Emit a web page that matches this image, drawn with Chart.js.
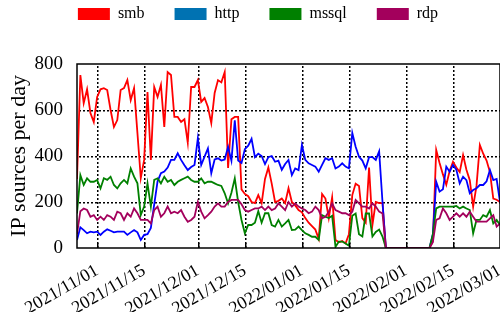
<!DOCTYPE html>
<html lang="en">
<head>
<meta charset="utf-8">
<title>IP sources per day</title>
<script src="https://cdn.jsdelivr.net/npm/chart.js@4.4.1/dist/chart.umd.min.js"></script>
<style>
  html, body { margin: 0; padding: 0; background: #fff; }
  #holder { width: 500px; height: 312px; }
</style>
</head>
<body>
<div id="holder"><canvas id="chart"></canvas></div>
<script>
// days are counted from 2021/11/01; the series start on 2021/10/26
const firstDay = -6;
const lastDay = 120;
const tickDays = [0, 14, 30, 44, 61, 75, 92, 106, 120];
const tickLabels = ['2021/11/01', '2021/11/15', '2021/12/01', '2021/12/15', '2022/01/01',
                    '2022/01/15', '2022/02/01', '2022/02/15', '2022/03/01'];
const yTicks = [0, 200, 400, 600, 800];

const smb = [
  300, 752, 630, 690, 587, 548,
  657, 690, 695, 687, 600, 526, 556, 687, 695, 730,
  643, 695, 500, 304, 383, 678, 383, 700, 657, 709,
  526, 765, 752, 570, 570, 548, 560, 457, 700, 700,
  730, 635, 652, 613, 543, 674, 730, 720, 765, 348,
  560, 570, 570, 255, 235, 225, 200, 195, 230, 195,
  300, 350, 280, 200, 205, 215, 195, 260, 200, 185,
  165, 155, 130, 110, 95, 80, 40, 235, 215, 130,
  220, 35, 25, 30, 20, 60, 230, 280, 270, 130,
  110, 350, 100, 200, 195, 195, 0, 0, 0, 0,
  0, 0, 0, 0, 0, 0, 0, 0, 0, 0,
  30, 426, 370, 320, 275, 335, 375, 350, 330, 404,
  340, 295, 180, 270, 448, 410, 380, 330, 215, 210,
  200
];
const http = [
  35, 90, 78, 64, 71, 68,
  71, 57, 71, 81, 75, 68, 71, 71, 71, 57,
  68, 78, 68, 35, 57, 60, 87, 190, 290, 325,
  332, 350, 383, 383, 412, 383, 360, 339, 352, 361,
  477, 361, 397, 433, 325, 385, 390, 380, 385, 440,
  380, 555, 380, 370, 430, 445, 475, 395, 410, 400,
  365, 395, 400, 375, 380, 340, 365, 383, 317, 346,
  339, 448, 383, 368, 361, 354, 332, 361, 390, 383,
  390, 346, 354, 368, 354, 346, 500, 440, 397, 380,
  346, 395, 395, 383, 420, 200, 0, 0, 0, 0,
  0, 0, 0, 0, 0, 0, 0, 0, 0, 0,
  60, 288, 245, 255, 354, 332, 361, 340, 281, 310,
  295, 238, 252, 260, 274, 274, 290, 339, 295, 300,
  200
];
const mssql = [
  150, 317, 274, 303, 288, 288,
  296, 259, 303, 296, 310, 274, 259, 281, 296, 281,
  346, 310, 281, 143, 180, 281, 180, 296, 303, 281,
  310, 288, 296, 274, 288, 296, 303, 310, 296, 288,
  288, 303, 281, 288, 288, 281, 274, 270, 238, 194,
  240, 303, 200, 122, 64, 100, 100, 110, 160, 110,
  151, 151, 100, 93, 122, 93, 107, 122, 78, 80,
  93, 78, 64, 57, 49, 49, 35, 143, 136, 130,
  140, 5, 28, 28, 20, 10, 140, 150, 60, 50,
  150, 150, 50, 70, 80, 50, 0, 0, 0, 0,
  0, 0, 0, 0, 0, 0, 0, 0, 0, 0,
  60, 172, 180, 180, 180, 180, 180, 183, 172, 180,
  172, 165, 64, 122, 122, 143, 136, 165, 107, 122,
  100
];
const rdp = [
  60, 160, 172, 165, 136, 143,
  122, 136, 122, 143, 136, 122, 158, 151, 122, 151,
  136, 172, 151, 122, 122, 122, 107, 165, 180, 136,
  151, 180, 151, 158, 151, 165, 136, 114, 122, 136,
  201, 158, 129, 143, 158, 180, 194, 180, 180, 200,
  209, 209, 209, 190, 165, 158, 165, 172, 172, 180,
  165, 180, 165, 172, 194, 180, 165, 200, 180, 194,
  180, 172, 165, 151, 158, 180, 165, 129, 136, 158,
  194, 165, 158, 151, 151, 143, 158, 209, 194, 180,
  180, 172, 194, 180, 158, 150, 0, 0, 0, 0,
  0, 0, 0, 0, 0, 0, 0, 0, 0, 0,
  25, 122, 129, 172, 151, 122, 136, 151, 136, 151,
  136, 158, 136, 115, 115, 115, 115, 129, 143, 93,
  107
];

const toPoints = vals => vals.map((v, i) => ({ x: firstDay + i, y: v }));

function series(label, vals, line, box, order) {
  return {
    label: label,
    data: toPoints(vals),
    borderColor: line,
    backgroundColor: box,
    borderWidth: 1.8,
    pointRadius: 0,
    tension: 0,
    order: order
  };
}

// dotted grid under the lines, then frame and inward tick marks on top
const frame = {
  id: 'frame',
  beforeDatasetsDraw(chart) {
    const ctx = chart.ctx;
    const a = chart.chartArea;
    const sx = chart.scales.x, sy = chart.scales.y;
    ctx.save();
    ctx.fillStyle = '#000';
    for (const d of tickDays) {
      const px = Math.round(sx.getPixelForValue(d));
      for (let t = Math.round(a.top) + 2; t < a.bottom; t += 4) ctx.fillRect(px, t, 1.5, 2);
    }
    for (const v of yTicks) {
      if (v === 0 || v === 800) continue;
      const py = Math.round(sy.getPixelForValue(v));
      for (let t = Math.round(a.left) + 2; t < a.right; t += 4) ctx.fillRect(t, py, 2, 1.5);
    }
    ctx.restore();
  },
  afterDatasetsDraw(chart) {
    const ctx = chart.ctx;
    const a = chart.chartArea;
    const sx = chart.scales.x;
    ctx.save();
    ctx.strokeStyle = '#000';
    ctx.lineWidth = 1.5;
    ctx.strokeRect(a.left, a.top, a.right - a.left, a.bottom - a.top);
    ctx.fillStyle = '#000';
    for (const d of tickDays) {
      const px = Math.round(sx.getPixelForValue(d));
      ctx.fillRect(px, a.bottom - 5, 1.5, 5);
    }
    ctx.restore();
  }
};

const legendShift = {
  id: 'legendShift',
  afterLayout(chart) {
    const lg = chart.legend;
    lg.left += 8;
    lg.right += 8;
    lg.top -= 32;
    lg.bottom -= 32;
  }
};

Chart.defaults.font.family = "'Liberation Serif', serif";
Chart.defaults.color = '#000';

new Chart(document.getElementById('chart'), {
  type: 'line',
  data: {
    datasets: [
      series('smb', smb, '#ff0000', '#ff0000', 3),
      series('http', http, '#0000ff', '#0072b2', 2),
      series('mssql', mssql, '#008000', '#008000', 1),
      series('rdp', rdp, '#a3005c', '#a3005c', 0)
    ]
  },
  options: {
    responsive: true,
    maintainAspectRatio: false,
    animation: false,
    layout: { padding: { top: 8, right: 0, bottom: 0, left: 0 } },
    plugins: {
      legend: {
        labels: {
          boxWidth: 32,
          boxHeight: 12,
          padding: 30,
          font: { size: 16 },
          sort: (a, b) => a.datasetIndex - b.datasetIndex,
          generateLabels(chart) {
            const items = Chart.defaults.plugins.legend.labels.generateLabels(chart);
            items.forEach(it => { it.strokeStyle = it.fillStyle; it.lineWidth = 0; });
            return items;
          }
        }
      },
      tooltip: { enabled: false }
    },
    scales: {
      x: {
        type: 'linear',
        min: firstDay,
        max: lastDay,
        afterBuildTicks: s => { s.ticks = tickDays.map(v => ({ value: v })); },
        afterFit: s => { s.height = 64; s.paddingRight = 0; s.paddingLeft = 0; },
        ticks: {
          minRotation: 30,
          maxRotation: 30,
          padding: 4,
          font: { size: 18 },
          callback: v => tickLabels[tickDays.indexOf(v)]
        },
        grid: { display: false },
        border: { display: false }
      },
      y: {
        min: 0,
        max: 800,
        afterBuildTicks: s => { s.ticks = yTicks.map(v => ({ value: v })); },
        afterFit: s => { s.width = 77; },
        ticks: { padding: 6, font: { size: 19 } },
        title: { display: true, text: 'IP sources per day', font: { size: 22 }, padding: { top: 6, bottom: 0 } },
        grid: { display: false },
        border: { display: false }
      }
    }
  },
  plugins: [frame, legendShift]
});
</script>
</body>
</html>
